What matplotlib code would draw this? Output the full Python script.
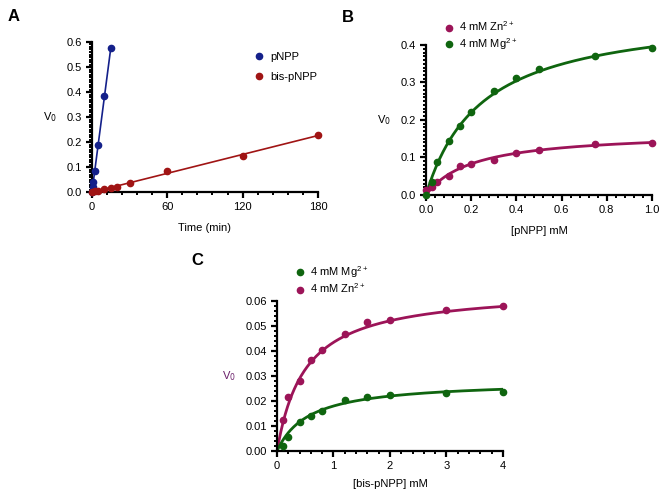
import numpy as np
import matplotlib
matplotlib.use("Agg")
import matplotlib.pyplot as plt
from matplotlib.ticker import MultipleLocator, FormatStrFormatter

plt.rcParams['font.family'] = ['Liberation Sans', 'DejaVu Sans']
plt.rcParams['font.size'] = 8

# panel A: time course
time_pnpp = [0, 0.5, 1, 2.5, 5, 10, 15]
v0_pnpp = [0.0, 0.02, 0.04, 0.085, 0.19, 0.385, 0.575]
time_bis = [0, 2.5, 5, 10, 15, 20, 30, 60, 120, 180]
v0_bis = [0.0, 0.003, 0.006, 0.012, 0.018, 0.022, 0.037, 0.083, 0.145, 0.228]

# panel B: pNPP
conc_pnpp = [0, 0.025, 0.05, 0.1, 0.15, 0.2, 0.3, 0.4, 0.5, 0.75, 1.0]
v0_b_mg = [0.0, 0.035, 0.088, 0.143, 0.185, 0.22, 0.278, 0.313, 0.337, 0.370, 0.392]
v0_b_zn = [0.012, 0.02, 0.035, 0.05, 0.077, 0.083, 0.092, 0.111, 0.12, 0.135, 0.139]
fit_b_mg = (0.493, 0.248)   # Vmax, Km
fit_b_zn = (0.169, 0.207)

# panel C: bis-pNPP
conc_bis = [0.1, 0.2, 0.4, 0.6, 0.8, 1.2, 1.6, 2, 3, 4]
v0_c_zn = [0.0123, 0.0215, 0.028, 0.0365, 0.0405, 0.0468, 0.0515, 0.0525, 0.0562, 0.058]
v0_c_mg = [0.002, 0.0058, 0.0117, 0.0142, 0.016, 0.0205, 0.0218, 0.0223, 0.0232, 0.0235]
fit_c_zn = (0.065, 0.496)
fit_c_mg = (0.0282, 0.567)

zn_label = '4 mM Zn$\\mathregular{^{2+}}$'
mg_label = '4 mM Mg$\\mathregular{^{2+}}$'

blue = '#14208a'
red = '#a01414'
green = '#0f650f'
zn_col = '#9c1458'


def mm(x, p):
    return p[0] * x / (p[1] + x)


def style(ax, xmaj, xmin, ymaj, ymin):
    for s in ['top', 'right']:
        ax.spines[s].set_visible(False)
    for s in ['left', 'bottom']:
        ax.spines[s].set_linewidth(1.6)
    ax.xaxis.set_major_locator(MultipleLocator(xmaj))
    ax.xaxis.set_minor_locator(MultipleLocator(xmin))
    ax.yaxis.set_major_locator(MultipleLocator(ymaj))
    ax.yaxis.set_minor_locator(MultipleLocator(ymin))
    ax.tick_params(which='major', length=4, width=1.6, labelsize=8, pad=3)
    ax.tick_params(which='minor', length=2.5, width=1.4)


fig = plt.figure(figsize=(6.66, 4.94), dpi=100)
k = dict(marker='o', ms=4.5, ls='none', clip_on=False, zorder=3)
leg = dict(frameon=False, handletextpad=0.2, fontsize=8, handlelength=1.5)

# A
axA = fig.add_axes([0.138, 0.611, 0.3395, 0.304])
axA.plot(time_pnpp, v0_pnpp, color=blue, label='pNPP', **k)
axA.plot(time_bis, v0_bis, color=red, label='bis-pNPP', **k)
pa = np.polyfit(time_pnpp, v0_pnpp, 1)
pb = np.polyfit(time_bis, v0_bis, 1)
xa = np.array([0, 15])
xb = np.array([0, 180])
axA.plot(xa, np.polyval(pa, xa), color=blue, lw=1.2)
axA.plot(xb, np.polyval(pb, xb), color=red, lw=1.2)
axA.set_xlim(0, 180)
axA.set_ylim(0, 0.6)
style(axA, 60, 12, 0.1, 0.01)
axA.yaxis.set_major_formatter(FormatStrFormatter('%.1f'))
axA.set_xlabel('Time (min)', labelpad=8)
axA.set_ylabel('V$_0$', rotation=0, labelpad=12, va='center')
axA.legend(loc='upper left', bbox_to_anchor=(0.66, 1.0), labelspacing=0.9, **leg)
fig.text(0.012, 0.958, 'A', fontsize=12, fontweight='bold')

# B
axB = fig.add_axes([0.6396, 0.6053, 0.3393, 0.3036])
xs = np.linspace(0, 1, 200)
axB.plot(xs, mm(xs, fit_b_mg), color=green, lw=2)
axB.plot(xs, mm(xs, fit_b_zn), color=zn_col, lw=2)
axB.plot(conc_pnpp, v0_b_zn, color=zn_col, label=zn_label, **k)
axB.plot(conc_pnpp, v0_b_mg, color=green, label=mg_label, **k)
axB.set_xlim(0, 1)
axB.set_ylim(0, 0.4)
style(axB, 0.2, 0.04, 0.1, 0.01)
axB.xaxis.set_major_formatter(FormatStrFormatter('%.1f'))
axB.yaxis.set_major_formatter(FormatStrFormatter('%.1f'))
axB.set_xlabel('[pNPP] mM', labelpad=8)
axB.set_ylabel('V$_0$', rotation=0, labelpad=12, va='center')
axB.legend(loc='lower left', bbox_to_anchor=(0.02, 0.89), labelspacing=0.2, **leg)
fig.text(0.514, 0.955, 'B', fontsize=12, fontweight='bold')

# C
axC = fig.add_axes([0.416, 0.087, 0.339, 0.3037])
xs = np.linspace(0, 4, 300)
axC.plot(xs, mm(xs, fit_c_zn), color=zn_col, lw=2)
axC.plot(xs, mm(xs, fit_c_mg), color=green, lw=2)
axC.plot(conc_bis, v0_c_mg, color=green, label=mg_label, **k)
axC.plot(conc_bis, v0_c_zn, color=zn_col, label=zn_label, **k)
axC.set_xlim(0, 4)
axC.set_ylim(0, 0.06)
style(axC, 1, 0.2, 0.01, 0.002)
axC.yaxis.set_major_formatter(FormatStrFormatter('%.2f'))
axC.set_xlabel('[bis-pNPP] mM', labelpad=6)
axC.set_ylabel('V$_0$', rotation=0, labelpad=12, va='center', color='#6a1f6a')
axC.legend(loc='lower left', bbox_to_anchor=(0.02, 0.97), labelspacing=0.15, **leg)
fig.text(0.287, 0.463, 'C', fontsize=12, fontweight='bold')

fig.savefig('out.png', dpi=100)
